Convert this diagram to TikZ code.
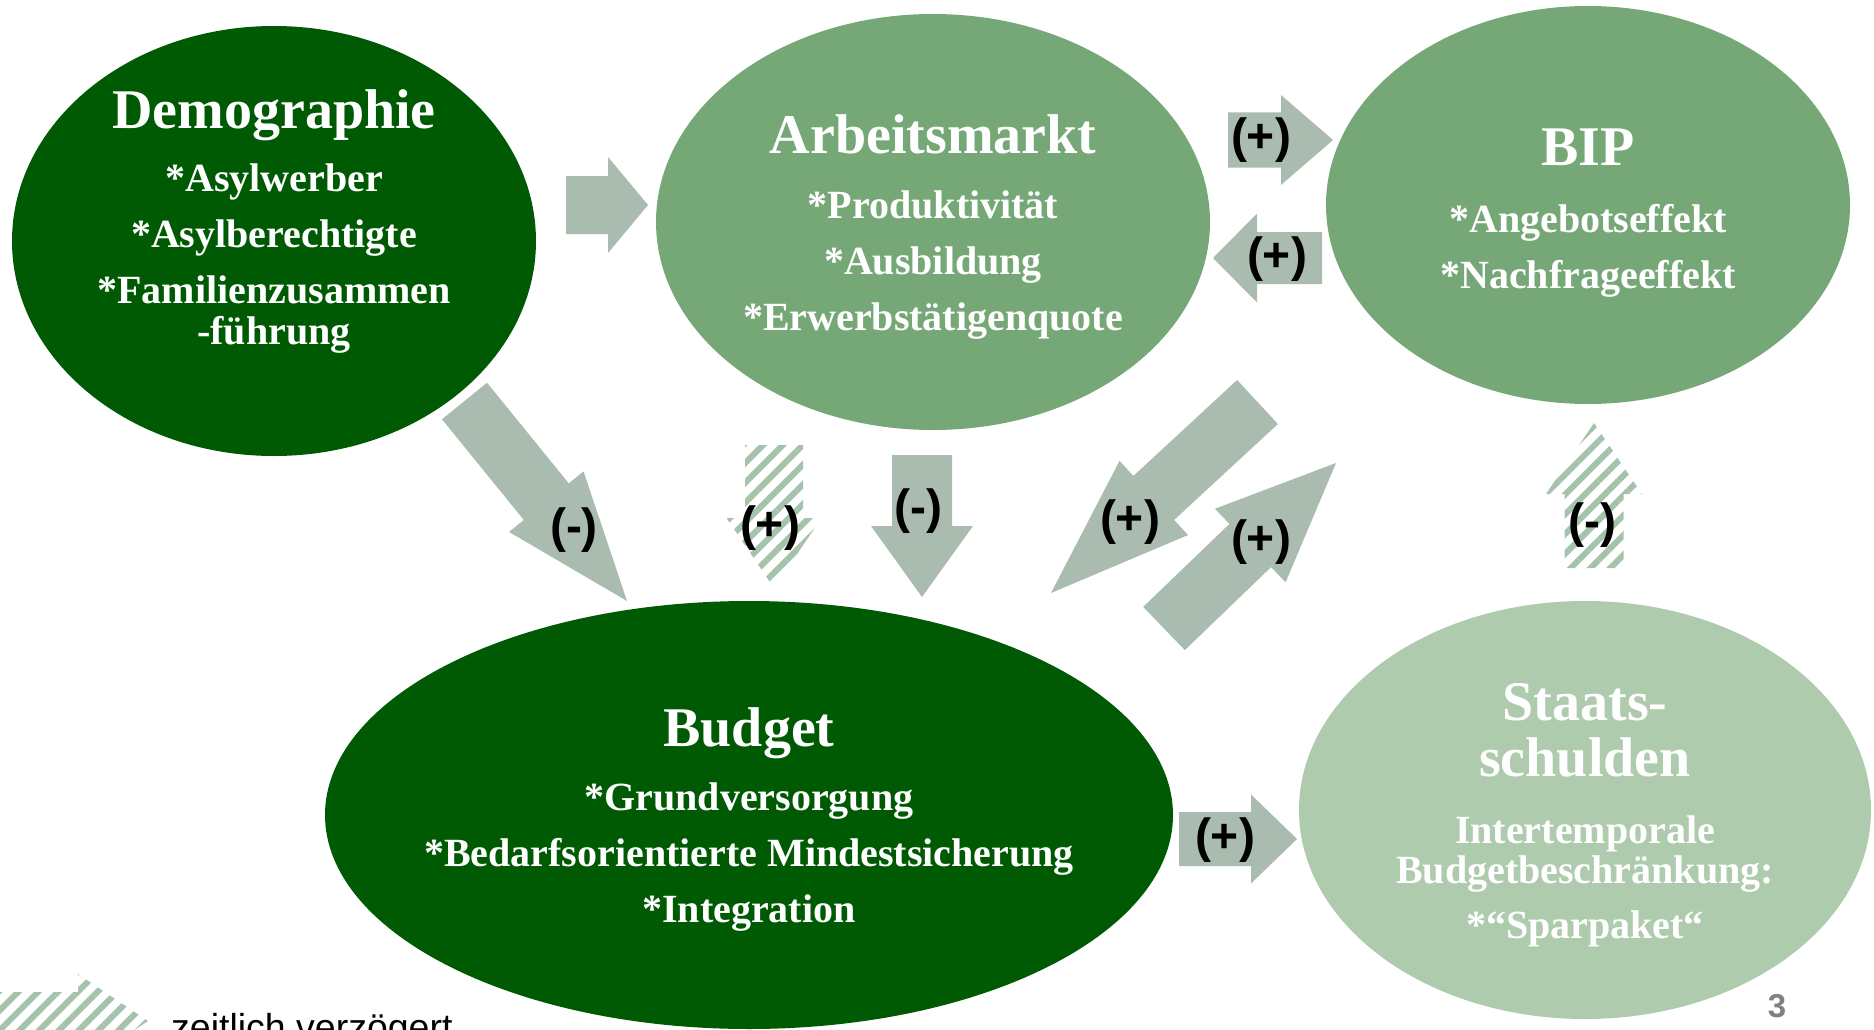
\documentclass[tikz,border=0pt]{standalone}
\usepackage{fontspec}
\setmainfont{Liberation Serif}
\newfontfamily\arialfont{Liberation Sans}
\usetikzlibrary{calc,shapes.geometric,patterns.meta}
\definecolor{darkgreen}{RGB}{0,90,4}
\definecolor{midgreen}{RGB}{118,168,119}
\definecolor{palegreen}{RGB}{174,203,174}
\definecolor{arrowgray}{RGB}{170,188,175}
\definecolor{hatchgreen}{RGB}{165,195,170}
% block arrow: [style](tail)(tip)(shaft half width:head half width:head length)
\def\blockarrow[#1](#2)(#3)(#4:#5:#6){\coordinate (ba-base) at ($(#3)!#6pt!(#2)$);
	\path[#1] ($(#2)!#4pt!90:(#3)$) -- ($(ba-base)!#4pt!90:(#3)$) -- ($(ba-base)!#5pt!90:(#3)$) -- (#3) -- ($(ba-base)!#5pt!-90:(#3)$) -- ($(ba-base)!#4pt!-90:(#3)$) -- ($(#2)!#4pt!-90:(#3)$) -- cycle;}
\tikzset{
	bubble/.style={ellipse, inner sep=0pt},
	head/.style={text=white, font=\fontsize{56}{56}\selectfont\bfseries, align=center, anchor=north, inner sep=0pt},
	items/.style={text=white, font=\fontsize{40}{56}\selectfont\bfseries, align=center, anchor=north, inner sep=0pt},
	sign/.style={font=\arialfont\fontsize{48}{48}\selectfont\bfseries, inner sep=0pt},
	solidarrow/.style={fill=arrowgray},
	lagarrow/.style={pattern={Lines[angle=45,distance=14pt,line width=6pt]}, pattern color=hatchgreen},
}
\begin{document}
\begin{tikzpicture}[x=1pt,y=-1pt]
			\useasboundingbox (0,0) rectangle (1874,1030);
			
			%%%%% BUBBLES %%%%%
			\node[bubble, fill=darkgreen, minimum width=524pt, minimum height=430pt] (demo) at (274,241) {};
			\node[bubble, fill=midgreen, minimum width=554pt, minimum height=416pt] (arbeit) at (933,222) {};
			\node[bubble, fill=midgreen, minimum width=524pt, minimum height=398pt] (bip) at (1588,205) {};
			\node[bubble, fill=darkgreen, minimum width=848pt, minimum height=428pt] (budget) at (749,815) {};
			\node[bubble, fill=palegreen, minimum width=572pt, minimum height=418pt] (schulden) at (1585,810) {};
			
			\node[head] (demo-h) at (274,89) {Demographie};
			\node[items] (demo-t) at (274,164) {*Asylwerber\\{}*Asylberechtigte\\{}*Familienzusammen\\[-15pt]-führung};
			
			\node[head] (arbeit-h) at (933,114) {Arbeitsmarkt};
			\node[items] (arbeit-t) at (933,191) {*Produktivität\\{}*Ausbildung\\{}*Erwerbstätigenquote};
			
			\node[head] (bip-h) at (1588,129) {BIP};
			\node[items] (bip-t) at (1588,204) {*Angebotseffekt\\{}*Nachfrageeffekt};
			
			\node[head] (budget-h) at (749,707) {Budget};
			\node[items] (budget-t) at (749,783) {*Grundversorgung\\{}*Bedarfsorientierte Mindestsicherung\\{}*Integration};
			
			\node[head] (schulden-h) at (1585,683) {Staats-\\schulden};
			\node[items] (schulden-t) at (1585,816) {Intertemporale\\[-16pt]Budgetbeschränkung:\\[-1pt]{}*“Sparpaket“};
			
			%%%%% ARROWS %%%%%
			\blockarrow[solidarrow](566,205)(648,205)(29:48:40)
			\blockarrow[solidarrow](1228,140)(1333,140)(27.5:45:52)
			\blockarrow[solidarrow](1322,258)(1213,258)(26:44.5:44)
			\blockarrow[solidarrow](464.5,401)(627,601)(29:48:128)
			\blockarrow[lagarrow](774,445)(774,588)(29:47.5:70)
			\blockarrow[solidarrow](922,455)(922,597)(30:51:71)
			\blockarrow[solidarrow](1257.5,402)(1051,593)(30:50.5:140)
			\blockarrow[solidarrow](1164,628.5)(1336,463)(30:51:119)
			\blockarrow[lagarrow](1594,568)(1594,423)(29.5:48:71)
			\blockarrow[solidarrow](1179,839)(1297,839)(27:44.5:46)
			
			\node[sign] (s-ab) at (1261,140) {(+)};
			\node[sign] (s-ba) at (1277,259) {(+)};
			\node[sign] (s-db) at (574,530) {(-)};
			\node[sign] (s-lag) at (770,528) {(+)};
			\node[sign] (s-ad) at (918,511) {(-)};
			\node[sign] (s-bd) at (1130,522) {(+)};
			\node[sign] (s-bu) at (1261,542) {(+)};
			\node[sign] (s-sb) at (1592,525) {(-)};
			\node[sign] (s-bs) at (1225,840) {(+)};
			
			%%%%% LEGEND %%%%%
			\blockarrow[lagarrow](-30,1021)(148,1021)(29:47:70)
			\node[font=\arialfont\fontsize{37.5}{37.5}\selectfont, anchor=base west, inner sep=0pt] (legend) at (171,1040) {zeitlich verzögert};
			\node[font=\arialfont\fontsize{33}{33}\selectfont\bfseries, text=black!50, inner sep=0pt] (page) at (1777,1006) {3};
		\end{tikzpicture}
\end{document}
